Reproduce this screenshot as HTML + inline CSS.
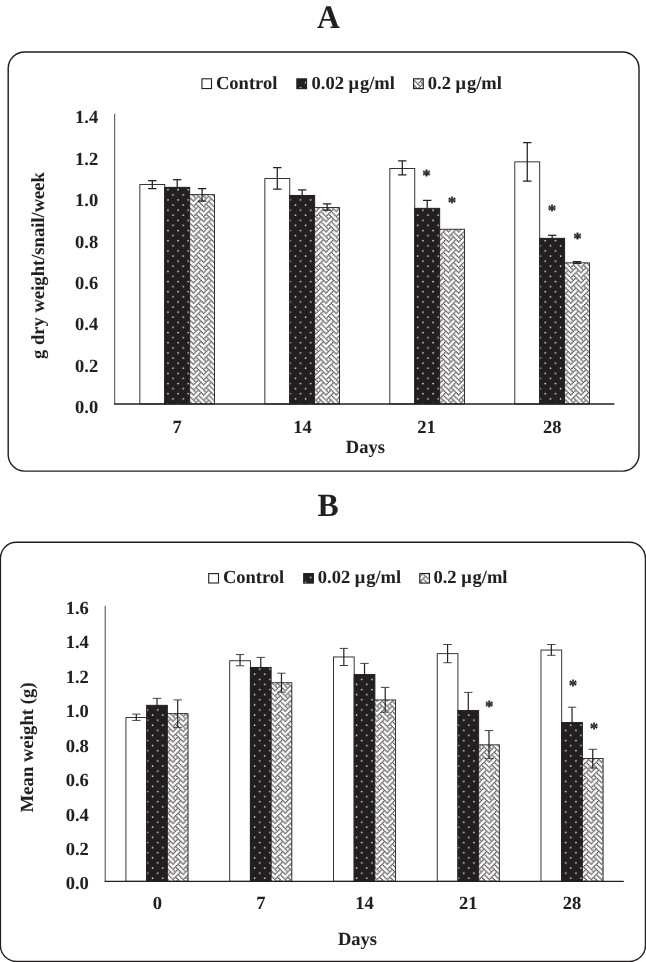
<!DOCTYPE html>
<html><head><meta charset="utf-8"><title>Chart</title>
<style>html,body{margin:0;padding:0;background:#fff;}svg{display:block;will-change:transform;}text{text-rendering:geometricPrecision;font-family:"Liberation Serif",serif;font-weight:bold;fill:#231f20;stroke:#231f20;stroke-width:0.05px;}</style>
</head><body>
<svg width="646" height="962" viewBox="0 0 646 962">
<defs>
<pattern id="dots" patternUnits="userSpaceOnUse" x="0" y="0" width="10.2" height="10.2">
<rect x="0" y="0" width="10.2" height="10.2" fill="#231f20"/>
<rect x="4.03" y="5.48" width="1.35" height="1.35" fill="#fff"/>
<rect x="-1.07" y="0.38" width="1.35" height="1.35" fill="#fff"/>
<rect x="-1.07" y="10.57" width="1.35" height="1.35" fill="#fff"/>
<rect x="9.12" y="0.38" width="1.35" height="1.35" fill="#fff"/>
<rect x="9.12" y="10.57" width="1.35" height="1.35" fill="#fff"/>
</pattern>
<pattern id="weave" patternUnits="userSpaceOnUse" x="9.2" y="1.75" width="10.2" height="10.2">
<rect x="0" y="0" width="10.2" height="10.2" fill="#fff"/>
<rect x="0.06" y="0.06" width="1.15" height="1.15" fill="#231f20"/>
<rect x="5.16" y="0.06" width="1.15" height="1.15" fill="#231f20"/>
<rect x="1.34" y="1.34" width="1.15" height="1.15" fill="#231f20"/>
<rect x="3.89" y="1.34" width="1.15" height="1.15" fill="#231f20"/>
<rect x="6.44" y="1.34" width="1.15" height="1.15" fill="#231f20"/>
<rect x="2.61" y="2.61" width="1.15" height="1.15" fill="#231f20"/>
<rect x="7.71" y="2.61" width="1.15" height="1.15" fill="#231f20"/>
<rect x="1.34" y="3.89" width="1.15" height="1.15" fill="#231f20"/>
<rect x="6.44" y="3.89" width="1.15" height="1.15" fill="#231f20"/>
<rect x="8.99" y="3.89" width="1.15" height="1.15" fill="#231f20"/>
<rect x="0.06" y="5.16" width="1.15" height="1.15" fill="#231f20"/>
<rect x="5.16" y="5.16" width="1.15" height="1.15" fill="#231f20"/>
<rect x="3.89" y="6.44" width="1.15" height="1.15" fill="#231f20"/>
<rect x="6.44" y="6.44" width="1.15" height="1.15" fill="#231f20"/>
<rect x="2.61" y="7.71" width="1.15" height="1.15" fill="#231f20"/>
<rect x="7.71" y="7.71" width="1.15" height="1.15" fill="#231f20"/>
<rect x="1.34" y="8.99" width="1.15" height="1.15" fill="#231f20"/>
<rect x="3.89" y="8.99" width="1.15" height="1.15" fill="#231f20"/>
<rect x="8.99" y="8.99" width="1.15" height="1.15" fill="#231f20"/>
<line x1="-4.46" y1="-4.46" x2="3.19" y2="3.19" stroke="#231f20" stroke-width="0.35"/>
<line x1="-4.46" y1="5.74" x2="3.19" y2="13.39" stroke="#231f20" stroke-width="0.35"/>
<line x1="5.74" y1="-4.46" x2="13.39" y2="3.19" stroke="#231f20" stroke-width="0.35"/>
<line x1="5.74" y1="5.74" x2="13.39" y2="13.39" stroke="#231f20" stroke-width="0.35"/>
<line x1="-7.01" y1="-1.91" x2="0.64" y2="5.74" stroke="#231f20" stroke-width="0.35"/>
<line x1="-7.01" y1="8.29" x2="0.64" y2="15.94" stroke="#231f20" stroke-width="0.35"/>
<line x1="3.19" y1="-1.91" x2="10.84" y2="5.74" stroke="#231f20" stroke-width="0.35"/>
<line x1="3.19" y1="8.29" x2="10.84" y2="15.94" stroke="#231f20" stroke-width="0.35"/>
<line x1="5.74" y1="0.64" x2="0.64" y2="5.74" stroke="#231f20" stroke-width="0.35"/>
<line x1="5.74" y1="10.84" x2="0.64" y2="15.94" stroke="#231f20" stroke-width="0.35"/>
<line x1="15.94" y1="0.64" x2="10.84" y2="5.74" stroke="#231f20" stroke-width="0.35"/>
<line x1="15.94" y1="10.84" x2="10.84" y2="15.94" stroke="#231f20" stroke-width="0.35"/>
<line x1="8.29" y1="-7.01" x2="0.64" y2="0.64" stroke="#231f20" stroke-width="0.35"/>
<line x1="8.29" y1="3.19" x2="0.64" y2="10.84" stroke="#231f20" stroke-width="0.35"/>
<line x1="18.49" y1="-7.01" x2="10.84" y2="0.64" stroke="#231f20" stroke-width="0.35"/>
<line x1="18.49" y1="3.19" x2="10.84" y2="10.84" stroke="#231f20" stroke-width="0.35"/>
</pattern>
</defs>
<rect x="8.2" y="52" width="630.8" height="419.1" rx="16.5" ry="16.5" fill="#fff" stroke="#231f20" stroke-width="1.45"/>
<rect x="0.4" y="542.3" width="645.1" height="419.2" rx="16" ry="16" fill="#fff" stroke="#231f20" stroke-width="1.45"/>
<text transform="translate(328.3 27.8) scale(0.975 1.02)" font-size="32.4" text-anchor="middle">A</text>
<text transform="translate(328 516.4) scale(0.98 1)" font-size="32.4" text-anchor="middle">B</text>
<rect x="201.95" y="78.8" width="9.55" height="9.75" fill="#fff" stroke="#231f20" stroke-width="1.1"/>
<text x="216" y="89.3" font-size="18.5">Control</text>
<rect x="296.85" y="78.85" width="9.7" height="9.8" fill="url(#dots)" stroke="#231f20" stroke-width="1.1"/>
<text x="311.5" y="89.3" font-size="18.5">0.02 μ<tspan dx="0.9">g/ml</tspan></text>
<rect x="413.55" y="78.8" width="9.7" height="9.8" fill="url(#weave)" stroke="#231f20" stroke-width="1.1"/>
<text x="427.8" y="89.3" font-size="18.5">0.2 μ<tspan dx="0.9">g/ml</tspan></text>
<rect x="208.7" y="573.6" width="9.8" height="9.4" fill="#fff" stroke="#231f20" stroke-width="1.1"/>
<text x="222.9" y="583.2" font-size="18.5">Control</text>
<rect x="303.7" y="573.6" width="9.7" height="9.5" fill="url(#dots)" stroke="#231f20" stroke-width="1.1"/>
<text x="317.8" y="583.2" font-size="18.5">0.02 μ<tspan dx="0.9">g/ml</tspan></text>
<rect x="419.8" y="573.5" width="9.7" height="9.6" fill="url(#weave)" stroke="#231f20" stroke-width="1.1"/>
<text x="433.4" y="583.2" font-size="18.5">0.2 μ<tspan dx="0.9">g/ml</tspan></text>
<rect x="139.85" y="184.55" width="24.9" height="219.45" fill="#fff" stroke="#231f20" stroke-width="0.9"/>
<rect x="164.75" y="187.35" width="24.9" height="216.65" fill="url(#dots)" stroke="#231f20" stroke-width="1"/>
<rect x="189.65" y="194.65" width="24.9" height="209.35" fill="url(#weave)" stroke="#231f20" stroke-width="0.9"/>
<rect x="264.85" y="178.55" width="24.9" height="225.45" fill="#fff" stroke="#231f20" stroke-width="0.9"/>
<rect x="289.75" y="195.45" width="24.9" height="208.55" fill="url(#dots)" stroke="#231f20" stroke-width="1"/>
<rect x="314.65" y="207.55" width="24.9" height="196.45" fill="url(#weave)" stroke="#231f20" stroke-width="0.9"/>
<rect x="389.85" y="168.45" width="24.9" height="235.55" fill="#fff" stroke="#231f20" stroke-width="0.9"/>
<rect x="414.75" y="208.35" width="24.9" height="195.65" fill="url(#dots)" stroke="#231f20" stroke-width="1"/>
<rect x="439.65" y="229.25" width="24.9" height="174.75" fill="url(#weave)" stroke="#231f20" stroke-width="0.9"/>
<rect x="514.8" y="161.85" width="24.9" height="242.15" fill="#fff" stroke="#231f20" stroke-width="0.9"/>
<rect x="539.7" y="238.35" width="24.9" height="165.65" fill="url(#dots)" stroke="#231f20" stroke-width="1"/>
<rect x="564.6" y="262.85" width="24.9" height="141.15" fill="url(#weave)" stroke="#231f20" stroke-width="0.9"/>
<path d="M152.3 180.6V188.6" stroke="#231f20" stroke-width="1.25" fill="none"/>
<path d="M148.1 180.6H156.5M148.1 188.6H156.5" stroke="#231f20" stroke-width="1.25" fill="none"/>
<path d="M177.2 179.7V187.6" stroke="#231f20" stroke-width="1.25" fill="none"/>
<path d="M173 179.7H181.4" stroke="#231f20" stroke-width="1.25" fill="none"/>
<path d="M202.1 188.6V201" stroke="#231f20" stroke-width="1.25" fill="none"/>
<path d="M197.9 188.6H206.3M197.9 201H206.3" stroke="#231f20" stroke-width="1.25" fill="none"/>
<path d="M277.3 167.5V189.2" stroke="#231f20" stroke-width="1.25" fill="none"/>
<path d="M273.1 167.5H281.5M273.1 189.2H281.5" stroke="#231f20" stroke-width="1.25" fill="none"/>
<path d="M302.2 189.9V195.7" stroke="#231f20" stroke-width="1.25" fill="none"/>
<path d="M298 189.9H306.4" stroke="#231f20" stroke-width="1.25" fill="none"/>
<path d="M327.1 203.9V210.1" stroke="#231f20" stroke-width="1.25" fill="none"/>
<path d="M322.9 203.9H331.3M322.9 210.1H331.3" stroke="#231f20" stroke-width="1.25" fill="none"/>
<path d="M402.3 160.9V174.8" stroke="#231f20" stroke-width="1.25" fill="none"/>
<path d="M398.1 160.9H406.5M398.1 174.8H406.5" stroke="#231f20" stroke-width="1.25" fill="none"/>
<path d="M427.2 200.4V208.6" stroke="#231f20" stroke-width="1.25" fill="none"/>
<path d="M423 200.4H431.4" stroke="#231f20" stroke-width="1.25" fill="none"/>
<path d="M527.25 142.5V181.2" stroke="#231f20" stroke-width="1.25" fill="none"/>
<path d="M523.05 142.5H531.45M523.05 181.2H531.45" stroke="#231f20" stroke-width="1.25" fill="none"/>
<path d="M552.15 235.3V238.6" stroke="#231f20" stroke-width="1.25" fill="none"/>
<path d="M547.95 235.3H556.35" stroke="#231f20" stroke-width="1.25" fill="none"/>
<path d="M577.05 261.6V263.4" stroke="#231f20" stroke-width="1.25" fill="none"/>
<path d="M572.85 261.6H581.25M572.85 263.4H581.25" stroke="#231f20" stroke-width="1.25" fill="none"/>
<path d="M114.7 113.9V404.6" stroke="#4a4647" stroke-width="1" fill="none"/>
<path d="M114.2 404H614.4" stroke="#231f20" stroke-width="1.3" fill="none"/>
<text x="98.2" y="413.3" font-size="18.5" text-anchor="end" letter-spacing="0">0.0</text>
<text x="98.2" y="371.86" font-size="18.5" text-anchor="end" letter-spacing="0">0.2</text>
<text x="98.2" y="330.41" font-size="18.5" text-anchor="end" letter-spacing="0">0.4</text>
<text x="98.2" y="288.97" font-size="18.5" text-anchor="end" letter-spacing="0">0.6</text>
<text x="98.2" y="247.53" font-size="18.5" text-anchor="end" letter-spacing="0">0.8</text>
<text x="98.2" y="206.09" font-size="18.5" text-anchor="end" letter-spacing="0">1.0</text>
<text x="98.2" y="164.64" font-size="18.5" text-anchor="end" letter-spacing="0">1.2</text>
<text x="98.2" y="123.2" font-size="18.5" text-anchor="end" letter-spacing="0">1.4</text>
<text x="177.2" y="433.4" font-size="18.5" text-anchor="middle">7</text>
<text x="302.5" y="433.4" font-size="18.5" text-anchor="middle">14</text>
<text x="426.4" y="433.4" font-size="18.5" text-anchor="middle">21</text>
<text x="552.2" y="433.4" font-size="18.5" text-anchor="middle">28</text>
<text x="426.4" y="181.4" font-size="17" text-anchor="middle" style="stroke-width:0.3px">*</text>
<text x="452" y="207.6" font-size="17" text-anchor="middle" style="stroke-width:0.3px">*</text>
<text x="551.9" y="216.2" font-size="17" text-anchor="middle" style="stroke-width:0.3px">*</text>
<text x="577.4" y="244" font-size="17" text-anchor="middle" style="stroke-width:0.3px">*</text>
<text x="365.4" y="453.3" font-size="18.5" text-anchor="middle">Days</text>
<text transform="translate(44.3 265.5) rotate(-90)" font-size="18.5" text-anchor="middle" letter-spacing="0.035">g dry weight/snail/week</text>
<rect x="125.95" y="717.45" width="20.7" height="163.85" fill="#fff" stroke="#231f20" stroke-width="0.9"/>
<rect x="146.65" y="705.35" width="20.7" height="175.95" fill="url(#dots)" stroke="#231f20" stroke-width="1"/>
<rect x="167.35" y="713.65" width="20.7" height="167.65" fill="url(#weave)" stroke="#231f20" stroke-width="0.9"/>
<rect x="229.71" y="660.75" width="20.7" height="220.55" fill="#fff" stroke="#231f20" stroke-width="0.9"/>
<rect x="250.41" y="667.45" width="20.7" height="213.85" fill="url(#dots)" stroke="#231f20" stroke-width="1"/>
<rect x="271.11" y="682.75" width="20.7" height="198.55" fill="url(#weave)" stroke="#231f20" stroke-width="0.9"/>
<rect x="333.47" y="656.95" width="20.7" height="224.35" fill="#fff" stroke="#231f20" stroke-width="0.9"/>
<rect x="354.17" y="674.55" width="20.7" height="206.75" fill="url(#dots)" stroke="#231f20" stroke-width="1"/>
<rect x="374.87" y="699.95" width="20.7" height="181.35" fill="url(#weave)" stroke="#231f20" stroke-width="0.9"/>
<rect x="437.23" y="653.65" width="20.7" height="227.65" fill="#fff" stroke="#231f20" stroke-width="0.9"/>
<rect x="457.93" y="710.55" width="20.7" height="170.75" fill="url(#dots)" stroke="#231f20" stroke-width="1"/>
<rect x="478.63" y="744.85" width="20.7" height="136.45" fill="url(#weave)" stroke="#231f20" stroke-width="0.9"/>
<rect x="540.99" y="650.05" width="20.7" height="231.25" fill="#fff" stroke="#231f20" stroke-width="0.9"/>
<rect x="561.69" y="722.55" width="20.7" height="158.75" fill="url(#dots)" stroke="#231f20" stroke-width="1"/>
<rect x="582.39" y="758.55" width="20.7" height="122.75" fill="url(#weave)" stroke="#231f20" stroke-width="0.9"/>
<path d="M136.3 714.1V720.4" stroke="#231f20" stroke-width="1.2" fill="none"/>
<path d="M132.1 714.1H140.5M132.1 720.4H140.5" stroke="#3d393a" stroke-width="0.95" fill="none"/>
<path d="M157 698.4V705.6" stroke="#231f20" stroke-width="1.2" fill="none"/>
<path d="M152.8 698.4H161.2" stroke="#3d393a" stroke-width="0.95" fill="none"/>
<path d="M177.7 699.9V727.4" stroke="#231f20" stroke-width="1.2" fill="none"/>
<path d="M173.5 699.9H181.9M173.5 727.4H181.9" stroke="#3d393a" stroke-width="0.95" fill="none"/>
<path d="M240.06 654.6V665.8" stroke="#231f20" stroke-width="1.2" fill="none"/>
<path d="M235.86 654.6H244.26M235.86 665.8H244.26" stroke="#3d393a" stroke-width="0.95" fill="none"/>
<path d="M260.76 657.4V667.7" stroke="#231f20" stroke-width="1.2" fill="none"/>
<path d="M256.56 657.4H264.96" stroke="#3d393a" stroke-width="0.95" fill="none"/>
<path d="M281.46 673.2V692.2" stroke="#231f20" stroke-width="1.2" fill="none"/>
<path d="M277.26 673.2H285.66M277.26 692.2H285.66" stroke="#3d393a" stroke-width="0.95" fill="none"/>
<path d="M343.82 648.4V665.5" stroke="#231f20" stroke-width="1.2" fill="none"/>
<path d="M339.62 648.4H348.02M339.62 665.5H348.02" stroke="#3d393a" stroke-width="0.95" fill="none"/>
<path d="M364.52 663.4V674.8" stroke="#231f20" stroke-width="1.2" fill="none"/>
<path d="M360.32 663.4H368.72" stroke="#3d393a" stroke-width="0.95" fill="none"/>
<path d="M385.22 687.4V712.2" stroke="#231f20" stroke-width="1.2" fill="none"/>
<path d="M381.02 687.4H389.42M381.02 712.2H389.42" stroke="#3d393a" stroke-width="0.95" fill="none"/>
<path d="M447.58 644.5V662.7" stroke="#231f20" stroke-width="1.2" fill="none"/>
<path d="M443.38 644.5H451.78M443.38 662.7H451.78" stroke="#3d393a" stroke-width="0.95" fill="none"/>
<path d="M468.28 692.4V710.8" stroke="#231f20" stroke-width="1.2" fill="none"/>
<path d="M464.08 692.4H472.48" stroke="#3d393a" stroke-width="0.95" fill="none"/>
<path d="M488.98 730.6V758.6" stroke="#231f20" stroke-width="1.2" fill="none"/>
<path d="M484.78 730.6H493.18M484.78 758.6H493.18" stroke="#3d393a" stroke-width="0.95" fill="none"/>
<path d="M551.34 644.5V655.3" stroke="#231f20" stroke-width="1.2" fill="none"/>
<path d="M547.14 644.5H555.54M547.14 655.3H555.54" stroke="#3d393a" stroke-width="0.95" fill="none"/>
<path d="M572.04 707.2V722.8" stroke="#231f20" stroke-width="1.2" fill="none"/>
<path d="M567.84 707.2H576.24" stroke="#3d393a" stroke-width="0.95" fill="none"/>
<path d="M592.74 749.3V768" stroke="#231f20" stroke-width="1.2" fill="none"/>
<path d="M588.54 749.3H596.94M588.54 768H596.94" stroke="#3d393a" stroke-width="0.95" fill="none"/>
<path d="M105.2 605.8V881.9" stroke="#4a4647" stroke-width="1" fill="none"/>
<path d="M104.7 881.3H623.8" stroke="#231f20" stroke-width="1.3" fill="none"/>
<text x="88.8" y="889.4" font-size="18.5" text-anchor="end" letter-spacing="0">0.0</text>
<text x="88.8" y="854.96" font-size="18.5" text-anchor="end" letter-spacing="0">0.2</text>
<text x="88.8" y="820.52" font-size="18.5" text-anchor="end" letter-spacing="0">0.4</text>
<text x="88.8" y="786.09" font-size="18.5" text-anchor="end" letter-spacing="0">0.6</text>
<text x="88.8" y="751.65" font-size="18.5" text-anchor="end" letter-spacing="0">0.8</text>
<text x="88.8" y="717.21" font-size="18.5" text-anchor="end" letter-spacing="0">1.0</text>
<text x="88.8" y="682.77" font-size="18.5" text-anchor="end" letter-spacing="0">1.2</text>
<text x="88.8" y="648.34" font-size="18.5" text-anchor="end" letter-spacing="0">1.4</text>
<text x="88.8" y="613.9" font-size="18.5" text-anchor="end" letter-spacing="0">1.6</text>
<text x="157.3" y="909.2" font-size="18.5" text-anchor="middle">0</text>
<text x="260.9" y="909.2" font-size="18.5" text-anchor="middle">7</text>
<text x="364.5" y="909.2" font-size="18.5" text-anchor="middle">14</text>
<text x="468.2" y="909.2" font-size="18.5" text-anchor="middle">21</text>
<text x="572.1" y="909.2" font-size="18.5" text-anchor="middle">28</text>
<text x="489.2" y="712.2" font-size="17" text-anchor="middle" style="stroke-width:0.3px">*</text>
<text x="572.9" y="691" font-size="17" text-anchor="middle" style="stroke-width:0.3px">*</text>
<text x="593.9" y="734.2" font-size="17" text-anchor="middle" style="stroke-width:0.3px">*</text>
<text x="357.5" y="945.2" font-size="18.5" text-anchor="middle">Days</text>
<text transform="translate(32.6 747.3) rotate(-90)" font-size="18.5" text-anchor="middle" letter-spacing="0.1">Mean weight (g)</text>
</svg>
</body></html>
